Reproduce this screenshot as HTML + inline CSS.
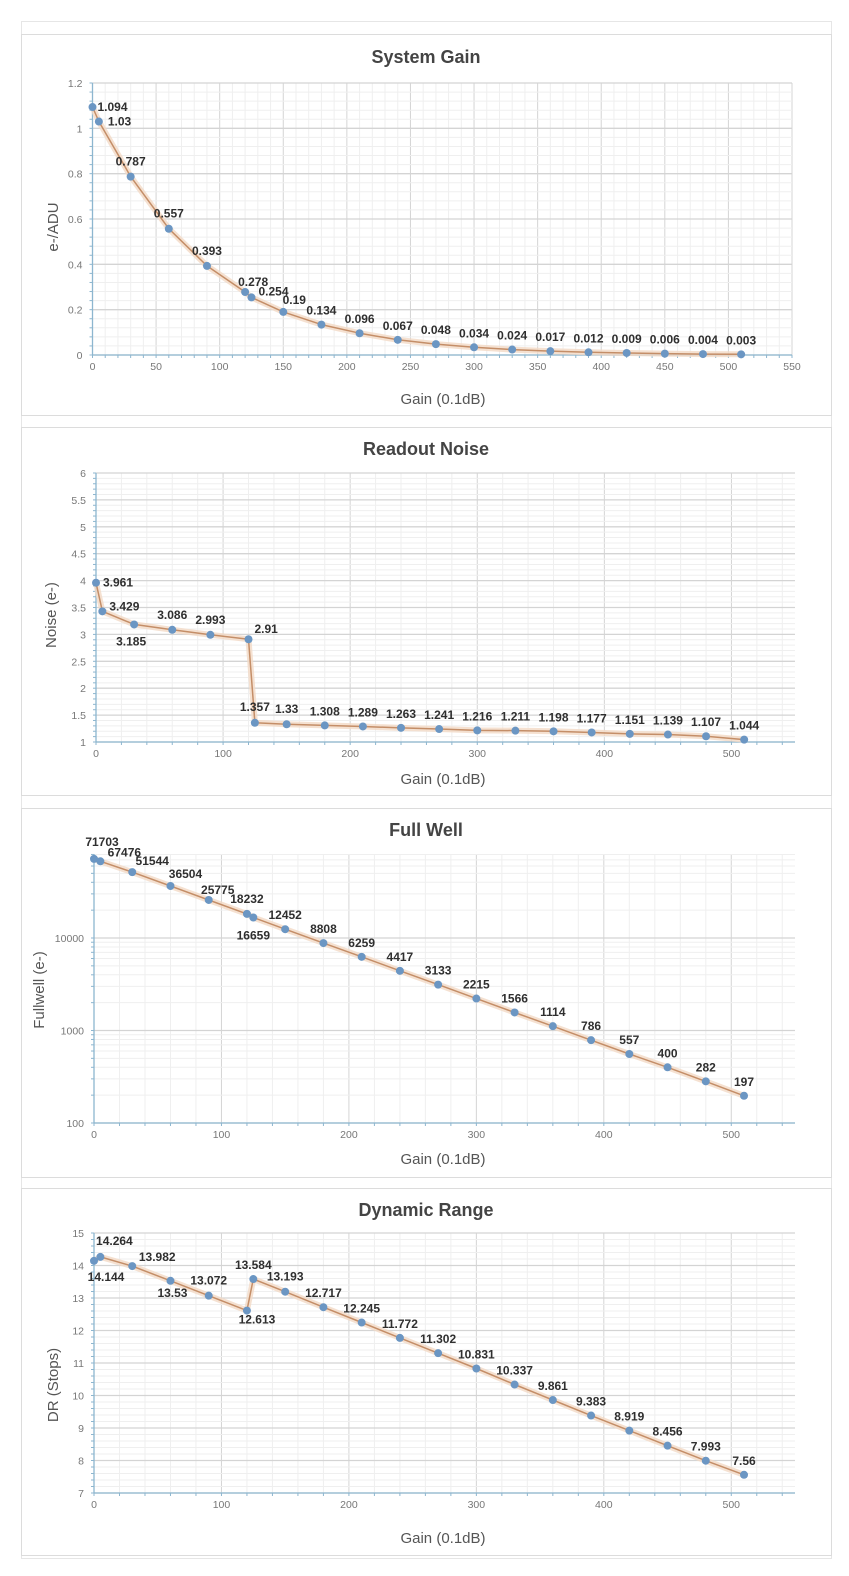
<!DOCTYPE html>
<html><head><meta charset="utf-8"><style>
html,body{margin:0;padding:0;background:#fff;width:849px;height:1576px;overflow:hidden}
svg{display:block}
</style></head><body>
<svg id="s" width="849" height="1576" xmlns="http://www.w3.org/2000/svg" font-family="Liberation Sans, sans-serif"></svg>
<script>
var S=document.getElementById('s'),h='';
function L(x1,y1,x2,y2,c,w){h+='<line x1="'+x1+'" y1="'+y1+'" x2="'+x2+'" y2="'+y2+'" stroke="'+c+'" stroke-width="'+(w||1)+'"/>';}
function T(x,y,t,o){o=o||{};h+='<text x="'+x+'" y="'+y+'" font-size="'+(o.s||10.5)+'" fill="'+(o.c||'#777')+'" text-anchor="'+(o.a||'middle')+'"'+(o.b?' font-weight="bold"':'')+(o.r?' transform="rotate(-90 '+x+' '+y+')"':'')+'>'+t+'</text>';}
h+='<rect x="21.5" y="21.5" width="810" height="1537" fill="none" stroke="#e6e6e6"/>';
[[34,415],[427,795],[808,1177],[1188,1555]].forEach(function(p){h+='<rect x="21.5" y="'+(p[0]+.5)+'" width="810" height="'+(p[1]-p[0])+'" fill="#fff" stroke="#dcdcdc"/>';});
var X=[0,5,30,60,90,120,125,150,180,210,240,270,300,330,360,390,420,450,480,510];
function chart(c){
 var x0=c.x0,x1=c.x1,yt=c.yt,yb=c.yb;
 function sx(v){return x0+(x1-x0)*v/550;}
 var sy=c.sy;
 for(var v=0;v<=550;v+=c.xmin){var X1=sx(v);L(X1,yt,X1,yb,(v%c.xmaj==0)?'#d4d4d4':'#efefef',1);}
 c.hgrid.forEach(function(g){L(x0,g[0],x1,g[0],g[1]?'#d4d4d4':'#efefef',g[1]?1.3:1);});
 L(x0,yt,x0,yb,'#8db6cf',1.3);L(x0,yb,x1,yb,'#8db6cf',1.3);
 for(var v=0;v<=550;v+=c.xmin){L(sx(v),yb,sx(v),yb+3,'#8db6cf');}
 c.hgrid.forEach(function(g){L(x0-3,g[0],x0,g[0],'#8db6cf');});
 for(var v=0;v<=550;v+=c.xmaj){T(sx(v),yb+15,v);}
 c.yl.forEach(function(t){T(x0-10,t[0]+4,t[1],{a:'end'});});
 T(c.tx,c.ty,c.title,{s:18,c:'#444',b:1});
 T(443,c.xty,'Gain (0.1dB)',{s:15,c:'#555'});
 T(c.ytx,c.yty,c.ytitle,{s:15,c:'#555',r:1});
 var pts=X.map(function(x,i){return [sx(x),sy(c.d[i])];});
 var d='M'+pts.map(function(p){return p[0].toFixed(1)+','+p[1].toFixed(1);}).join(' L');
 h+='<path d="'+d+'" fill="none" stroke="#f3d9c6" stroke-width="6" stroke-linejoin="round" opacity="0.8"/>';
 h+='<path d="'+d+'" fill="none" stroke="#c48e68" stroke-width="1.5" stroke-linejoin="round"/>';
 pts.forEach(function(p){h+='<circle cx="'+p[0]+'" cy="'+p[1]+'" r="4" fill="#6b96c3"/>';});
 pts.forEach(function(p,i){var o=c.off[i]||[0,-14,'middle'];T(p[0]+o[0],p[1]+o[1]+4,c.d[i],{s:12,c:'#2f2f2f',b:1,a:o[2]||'middle'});});
}
(function(){var yt=83,yb=355;function sy(v){return yb-(yb-yt)*v/1.2;}
var hg=[];for(var i=0;i<=30;i++){hg.push([sy(i*0.04),i%5==0]);}
var yl=[];for(var i=0;i<=6;i++){yl.push([sy(i*0.2),(i*0.2).toFixed(1).replace(/\.0$/,'')]);}
chart({x0:92.5,x1:792,yt:yt,yb:yb,sy:sy,xmin:10,xmaj:50,hgrid:hg,yl:yl,title:'System Gain',tx:426,ty:63,xty:404,ytx:58,yty:227,ytitle:'e-/ADU',
d:[1.094,1.03,0.787,0.557,0.393,0.278,0.254,0.19,0.134,0.096,0.067,0.048,0.034,0.024,0.017,0.012,0.009,0.006,0.004,0.003],
off:{0:[5,0,'start'],1:[9,0,'start'],2:[0,-15],3:[0,-15],4:[0,-15],5:[8,-10],6:[7,-6,'start'],7:[11,-12]}});})();
(function(){var yt=473,yb=742;function sy(v){return yb-(yb-yt)*(v-1)/5;}
var hg=[];for(var i=0;i<=50;i++){hg.push([sy(1+i*0.1),i%5==0]);}
var yl=[];for(var i=0;i<=10;i++){yl.push([sy(1+i*0.5),String(1+i*0.5)]);}
chart({x0:96,x1:795,yt:yt,yb:yb,sy:sy,xmin:20,xmaj:100,hgrid:hg,yl:yl,title:'Readout Noise',tx:426,ty:455,xty:784,ytx:56,yty:615,ytitle:'Noise (e-)',
d:[3.961,3.429,3.185,3.086,2.993,2.91,1.357,1.33,1.308,1.289,1.263,1.241,1.216,1.211,1.198,1.177,1.151,1.139,1.107,1.044],
off:{0:[7,0,'start'],1:[7,-5,'start'],2:[-3,17],3:[0,-15],4:[0,-15],5:[6,-10,'start'],6:[0,-16],7:[0,-15]}});})();
(function(){var yt=854,yb=1123;function sy(v){return yb-92.5*(Math.log10(v)-2);}
var hg=[];for(var e=2;e<5;e++){for(var m=1;m<10;m++){var y=sy(m*Math.pow(10,e));if(y>=yt-0.5)hg.push([y,m==1]);}}
var yl=[[sy(100),'100'],[sy(1000),'1000'],[sy(10000),'10000']];
chart({x0:94,x1:795,yt:yt,yb:yb,sy:sy,xmin:20,xmaj:100,hgrid:hg,yl:yl,title:'Full Well',tx:426,ty:836,xty:1164,ytx:44,yty:990,ytitle:'Fullwell (e-)',
d:[71703,67476,51544,36504,25775,18232,16659,12452,8808,6259,4417,3133,2215,1566,1114,786,557,400,282,197],
off:{0:[8,-17],1:[24,-9],2:[20,-11],3:[15,-12],4:[9,-10],5:[0,-15],6:[0,18]}});})();
(function(){var yt=1233,yb=1493;function sy(v){return yb-(yb-yt)*(v-7)/8;}
var hg=[];for(var i=0;i<=40;i++){hg.push([sy(7+i*0.2),i%5==0]);}
var yl=[];for(var i=0;i<=8;i++){yl.push([sy(7+i),String(7+i)]);}
chart({x0:94,x1:795,yt:yt,yb:yb,sy:sy,xmin:20,xmaj:100,hgrid:hg,yl:yl,title:'Dynamic Range',tx:426,ty:1216,xty:1543,ytx:58,yty:1385,ytitle:'DR (Stops)',
d:[14.144,14.264,13.982,13.53,13.072,12.613,13.584,13.193,12.717,12.245,11.772,11.302,10.831,10.337,9.861,9.383,8.919,8.456,7.993,7.56],
off:{0:[12,16],1:[14,-16],2:[25,-9],3:[2,12],4:[0,-15],5:[10,9],6:[0,-14],7:[0,-15]}});})();
S.innerHTML=h;
</script>
</body></html>
